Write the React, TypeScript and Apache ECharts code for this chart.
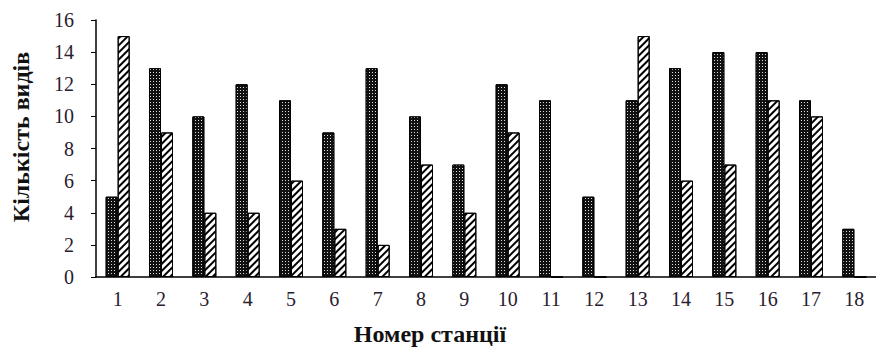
import React, { useEffect, useRef } from "react";
import * as echarts from "echarts";

const categories = ["1","2","3","4","5","6","7","8","9","10","11","12","13","14","15","16","17","18"];
const seriesA = [5, 13, 10, 12, 11, 9, 13, 10, 7, 12, 11, 5, 11, 13, 14, 14, 11, 3];
const seriesB = [15, 9, 4, 4, 6, 3, 2, 7, 4, 9, 0, 0, 15, 6, 7, 11, 10, 0];
const yTitle = "Кількість видів";
const xTitle = "Номер станції";

export default function App() {
  const ref = useRef<HTMLDivElement>(null);
  useEffect(() => {
    if (!ref.current) return;
    const chart = echarts.init(ref.current, null, { renderer: "svg" });
    const font = "Liberation Serif";
    chart.setOption({
      animation: false,
      backgroundColor: "#fff",
      grid: { left: 96, right: 0, top: 20, bottom: 70 },
      graphic: [
        {
          type: "text",
          x: 430,
          y: 334,
          style: {
            text: xTitle,
            fill: "#111",
            font: "bold 24px 'Liberation Serif'",
            align: "center",
            verticalAlign: "middle",
          },
        },
        {
          type: "text",
          x: 21,
          y: 137,
          rotation: Math.PI / 2,
          style: {
            text: yTitle,
            fill: "#111",
            font: "bold 24px 'Liberation Serif'",
            align: "center",
            verticalAlign: "middle",
          },
        },
      ],
      xAxis: {
        type: "category",
        data: categories,
        axisLine: { lineStyle: { color: "#000", width: 1.5 } },
        axisTick: { show: false },
        axisLabel: { color: "#2a2030", fontFamily: font, fontSize: 20, margin: 12 },
      },
      yAxis: {
        type: "value",
        min: 0,
        max: 16,
        interval: 2,
        splitLine: { show: false },
        axisLine: { show: true, lineStyle: { color: "#000", width: 1.5 } },
        axisTick: { show: true, length: 5, lineStyle: { color: "#000" } },
        axisLabel: { color: "#2a2030", fontFamily: font, fontSize: 20, margin: 22 },
      },
      series: [
        {
          type: "bar",
          data: seriesA,
          barWidth: 12,
          barGap: "0%",
          itemStyle: {
            color: "#111",
            borderColor: "#000",
            borderWidth: 1,
            decal: {
              symbol: "rect",
              symbolSize: 1,
              color: "#ddd",
              dashArrayX: [1, 2],
              dashArrayY: [1, 2],
              rotation: 0,
            },
          },
        },
        {
          type: "bar",
          data: seriesB,
          barWidth: 12,
          barGap: "0%",
          itemStyle: {
            color: "#fff",
            borderColor: "#000",
            borderWidth: 1,
            decal: {
              symbol: "rect",
              symbolSize: 1,
              color: "#000",
              dashArrayX: [1, 0],
              dashArrayY: [1.5, 3],
              rotation: -Math.PI / 4,
            },
          },
        },
      ],
    });
    return () => chart.dispose();
  }, []);
  return (
    <div
      ref={ref}
      style={{ position: "fixed", left: 0, top: 0, width: 876, height: 347 }}
    />
  );
}
